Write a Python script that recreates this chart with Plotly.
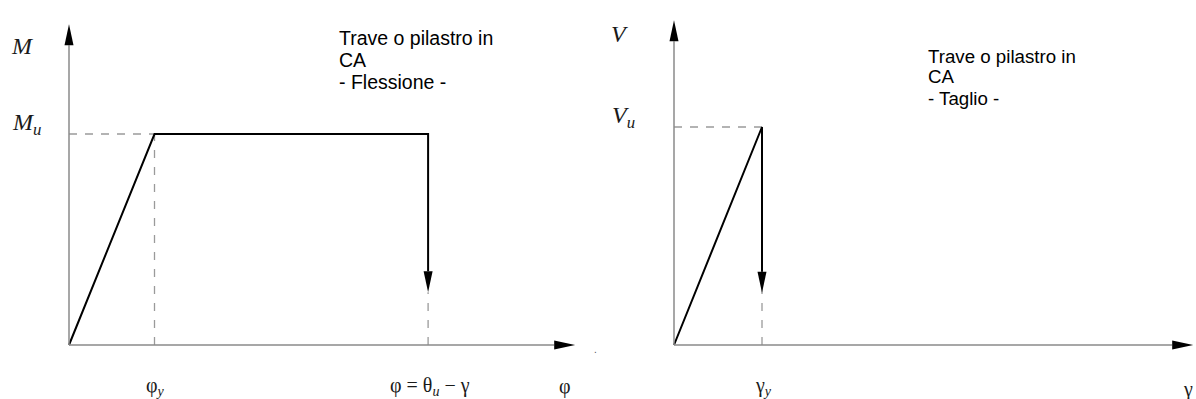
import plotly.graph_objects as go

# ---- Bending: moment vs curvature (reinforced-concrete beam/column) ----
phi = [0.0, 1.0, 4.2, 4.2]        # curvature: origin, yield, ultimate, ultimate
M = [0.0, 1.0, 1.0, 0.25]         # moment: rise to Mu, plateau, sudden drop
phi_axis_end = 5.92
M_axis_end = 1.52

# ---- Shear: shear force vs shear strain ----
gamma = [0.0, 1.0, 1.0]
V = [0.0, 1.0, 0.24]
gamma_axis_end = 5.9
V_axis_end = 1.49

# ---- Labels ----
left_title = ["Trave o pilastro in", "CA", "- Flessione -"]
right_title = ["Trave o pilastro in", "CA", "- Taglio -"]
phi_tick_labels = ["φ<sub><i>y</i></sub>", "φ = θ<sub><i>u</i></sub> − γ"]
gamma_tick_labels = ["γ<sub><i>y</i></sub>"]

# ---- Geometry of the drawing (pixels) ----
W, H = 1196, 399
SPLIT = 598
L_ORIGIN, L_SX, L_SY = (69, 345), 85.5, 211.0
R_ORIGIN, R_SX, R_SY = (674, 345), 88.0, 218.0
HEAD_LEN, HEAD_W = 21, 9

AXIS_COLOR = "#8a8a8a"
DASH_COLOR = "#9a9a9a"
SERIF = "Liberation Serif"
SANS = "Liberation Sans"


def axis_range(origin_px, lo_px, hi_px, scale):
    return [(lo_px - origin_px) / scale, (hi_px - origin_px) / scale]


fig = go.Figure()
shapes = []


def arrowhead(xref, yref, tx, ty, direction, sx, sy):
    """Filled triangular arrowhead with its tip at (tx, ty)."""
    lx, ly = HEAD_LEN / sx, HEAD_LEN / sy
    wx, wy = HEAD_W / 2 / sx, HEAD_W / 2 / sy
    if direction == "up":
        pts = [(tx, ty), (tx - wx, ty - ly), (tx + wx, ty - ly)]
    elif direction == "down":
        pts = [(tx, ty), (tx - wx, ty + ly), (tx + wx, ty + ly)]
    else:  # right
        pts = [(tx, ty), (tx - lx, ty + wy), (tx - lx, ty - wy)]
    path = "M {} {} L {} {} L {} {} Z".format(*[v for p in pts for v in p])
    shapes.append(dict(type="path", path=path, xref=xref, yref=yref,
                       fillcolor="black", line=dict(width=0), layer="above"))


def panel(xs, ys, x_end, y_end, xa, ya, sx, sy):
    # axes with arrows
    shapes.append(dict(type="line", xref=xa, yref=ya, x0=0, y0=0,
                       x1=x_end - HEAD_LEN / sx, y1=0,
                       line=dict(color=AXIS_COLOR, width=1.5)))
    shapes.append(dict(type="line", xref=xa, yref=ya, x0=0, y0=0,
                       x1=0, y1=y_end - HEAD_LEN / sy,
                       line=dict(color=AXIS_COLOR, width=1.5)))
    arrowhead(xa, ya, x_end, 0, "right", sx, sy)
    arrowhead(xa, ya, 0, y_end, "up", sx, sy)

    on = dict(xaxis=xa, yaxis=ya, hoverinfo="skip", mode="lines")
    # dashed reference lines at yield and at the drop
    x_y, y_u = xs[1], ys[1]
    fig.add_trace(go.Scatter(x=[0, x_y], y=[y_u, y_u],
                             line=dict(color=DASH_COLOR, width=1.3, dash="8px,8px"), **on))
    fig.add_trace(go.Scatter(x=[x_y, x_y], y=[0, y_u],
                             line=dict(color=DASH_COLOR, width=1.3, dash="8px,9px"), **on))
    if xs[-1] != x_y:
        fig.add_trace(go.Scatter(x=[xs[-1], xs[-1]], y=[0, ys[-1]],
                                 line=dict(color=DASH_COLOR, width=1.3, dash="8px,9px"), **on))
    # response curve; the last segment ends at the arrowhead base
    cy = list(ys[:-1]) + [ys[-1] + HEAD_LEN / sy]
    fig.add_trace(go.Scatter(x=list(xs), y=cy,
                             line=dict(color="black", width=2), **on))
    arrowhead(xa, ya, xs[-1], ys[-1], "down", sx, sy)


panel(phi, M, phi_axis_end, M_axis_end, "x", "y", L_SX, L_SY)
panel(gamma, V, gamma_axis_end, V_axis_end, "x2", "y2", R_SX, R_SY)

ann = []


def label(text, xref, yref, x, y, xshift=0, yshift=0, size=18, family=SERIF,
          color="#1a1a1a"):
    ann.append(dict(text=text, xref=xref, yref=yref, x=x, y=y,
                    xshift=xshift, yshift=yshift, showarrow=False,
                    font=dict(family=family, size=size, color=color)))


# left panel labels
label("<i>M</i>", "x", "y", 0, M_axis_end, xshift=-47, yshift=-22, size=24)
label("<i>M<sub>u</sub></i>", "x", "y", 0, M[1], xshift=-43, yshift=10, size=24)
label(phi_tick_labels[0], "x", "y", phi[1], 0, xshift=1, yshift=-41, size=20)
label(phi_tick_labels[1], "x", "y", phi[2], 0, xshift=2, yshift=-41, size=20)
label("φ", "x", "y", phi_axis_end, 0, xshift=-10, yshift=-41, size=20)
label(".", "x", "y", phi_axis_end, 0, xshift=20, yshift=-4, size=10,
      family=SANS, color="#555")

# right panel labels
label("<i>V</i>", "x2", "y2", 0, V_axis_end, xshift=-55, yshift=-14, size=24)
label("<i>V<sub>u</sub></i>", "x2", "y2", 0, V[1], xshift=-51, yshift=10, size=24)
label(gamma_tick_labels[0], "x2", "y2", gamma[1], 0, xshift=1, yshift=-41, size=20)
label("γ", "x2", "y2", gamma_axis_end, 0, xshift=-5, yshift=-44, size=20)


# panel titles, one line at a time
def title(lines, x_px, y_first_px, spacing, size):
    for i, line in enumerate(lines):
        ann.append(dict(text=line, xref="paper", yref="paper",
                        x=x_px / W, y=1 - (y_first_px + i * spacing) / H,
                        xanchor="left", yanchor="middle", align="left",
                        showarrow=False,
                        font=dict(family=SANS, size=size, color="black")))


title(left_title, 337, 38, 22, 19.5)
title(right_title, 926, 56, 21, 18.7)

fig.update_layout(
    width=W, height=H,
    margin=dict(l=0, r=0, t=0, b=0),
    paper_bgcolor="white", plot_bgcolor="white",
    showlegend=False,
    shapes=shapes, annotations=ann,
    xaxis=dict(domain=[0, SPLIT / W], visible=False, fixedrange=True,
               range=axis_range(L_ORIGIN[0], 0, SPLIT, L_SX)),
    yaxis=dict(domain=[0, 1], visible=False, fixedrange=True, anchor="x",
               range=[(L_ORIGIN[1] - H) / L_SY, L_ORIGIN[1] / L_SY]),
    xaxis2=dict(domain=[SPLIT / W, 1], visible=False, fixedrange=True, anchor="y2",
                range=axis_range(R_ORIGIN[0], SPLIT, W, R_SX)),
    yaxis2=dict(domain=[0, 1], visible=False, fixedrange=True, anchor="x2",
                range=[(R_ORIGIN[1] - H) / R_SY, R_ORIGIN[1] / R_SY]),
)

fig.write_html("out.html")
